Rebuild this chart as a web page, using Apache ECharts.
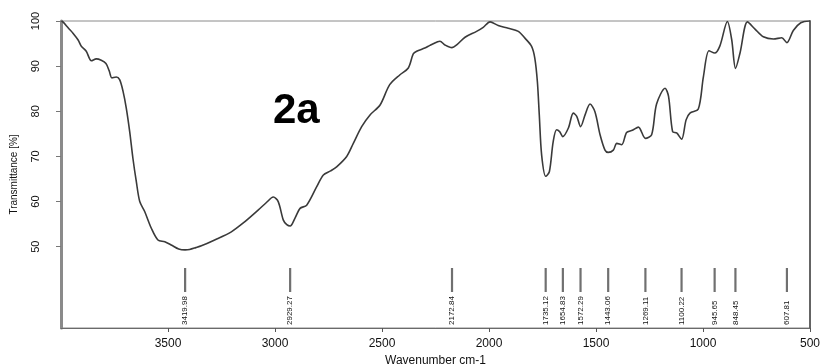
<!DOCTYPE html>
<html>
<head>
<meta charset="utf-8">
<script src="https://cdn.jsdelivr.net/npm/echarts@6/dist/echarts.min.js"></script>
<style>
  html, body { margin: 0; padding: 0; background: #fff; }
  #chart { width: 823px; height: 364px; }
</style>
</head>
<body>
<div id="chart"></div>
<script>
// IR spectrum of sample 2a: wavenumber (cm-1) vs transmittance (%)
const wavenumbers = [
  3998, 3991, 3965, 3944, 3920, 3905, 3882, 3858, 3835, 3812, 3790, 3775, 3762, 3742, 3726,
  3710, 3695, 3679, 3664, 3648, 3632, 3609, 3578, 3547, 3515, 3485, 3450, 3420, 3399, 3370,
  3344, 3282, 3204, 3142, 3079, 3040, 3008, 2985, 2961, 2945, 2929, 2907, 2883, 2852, 2805,
  2774, 2740, 2712, 2665, 2634, 2595, 2556, 2509, 2464, 2416, 2377, 2354, 2338, 2300, 2276,
  2240, 2229, 2206, 2173, 2151, 2112, 2058, 2027, 1995, 1957, 1910, 1863, 1832, 1801, 1786,
  1774, 1765, 1754, 1735, 1718, 1700, 1684, 1670, 1655, 1629, 1606, 1590, 1572, 1551, 1528,
  1505, 1481, 1458, 1443, 1419, 1403, 1380, 1357, 1330, 1302, 1269, 1240, 1217, 1177, 1161,
  1142, 1123, 1100, 1079, 1061, 1022, 998, 972, 945, 921, 886, 866, 848, 827, 792,
  757, 718, 671, 632, 608, 578, 543, 505, 500
];
const transmittance = [
  100, 99.8, 98.4, 97.3, 95.8, 94.4, 93.3, 91.2, 91.6, 91.3, 90.6, 89.0, 87.4, 87.6, 87.0,
  84.4, 80.7, 75.5, 69.6, 64.4, 60.0, 57.8, 54.1, 51.5, 51.1, 50.4, 49.5, 49.3, 49.4, 49.8,
  50.2, 51.5, 53.3, 55.5, 58.1, 59.8, 61.0, 60.0, 55.9, 54.9, 54.6, 56.3, 58.5, 59.2, 63.3,
  65.9, 66.8, 67.7, 70.0, 72.9, 76.6, 79.2, 81.4, 85.9, 88.1, 89.6, 92.7, 93.3, 94.0, 94.6,
  95.4, 95.5, 94.7, 94.1, 94.7, 96.4, 97.7, 98.6, 99.8, 99.0, 98.4, 97.7, 96.2, 94.4, 91.8,
  86.6, 79.2, 70.3, 65.6, 66.6, 73.3, 75.9, 75.5, 74.4, 76.3, 79.6, 78.9, 76.6, 79.2, 81.6,
  79.9, 74.8, 71.4, 70.9, 71.4, 72.9, 72.6, 75.3, 75.8, 76.5, 74.0, 74.8, 81.6, 85.1, 83.3,
  75.5, 75.2, 73.8, 78.1, 79.6, 80.5, 87.7, 93.4, 92.9, 94.5, 99.9, 95.9, 89.5, 92.9, 99.8,
  98.2, 96.5, 96.0, 96.3, 95.2, 97.9, 99.6, 100, 100
];
// Annotated band positions (cm-1)
const peakPositions = [3419.98, 2929.27, 2172.84, 1735.12, 1654.83, 1572.29, 1443.06, 1269.11, 1100.22, 945.65, 848.45, 607.81];
const peakLabels = ['3419.98', '2929.27', '2172.84', '1735.12', '1654.83', '1572.29', '1443.06', '1269.11', '1100.22', '945.65', '848.45', '607.81'];
const xTicks = [3500, 3000, 2500, 2000, 1500, 1000, 500];
const yTicks = [50, 60, 70, 80, 90, 100];

const spectrum = wavenumbers.map((w, i) => [w, transmittance[i]]);
const peaks = peakPositions.map((w, i) => [w, 40, peakLabels[i]]);

const chart = echarts.init(document.getElementById('chart'), null, { renderer: 'canvas' });
const FONT = '"Liberation Sans", Arial, sans-serif';

chart.setOption({
  animation: false,
  backgroundColor: '#ffffff',
  grid: {
    left: 61, right: 13, top: 21, bottom: 36,
    outerBoundsMode: 'none',
    show: true, borderColor: '#8a8a8a', borderWidth: 1
  },
  xAxis: {
    type: 'value',
    min: 500, max: 4000, interval: 500,
    inverse: true,
    name: 'Wavenumber cm-1',
    nameLocation: 'middle',
    nameGap: 24,
    nameTextStyle: { fontFamily: FONT, fontSize: 12, color: '#111' },
    axisLine: { show: true, lineStyle: { color: '#6a6a6a', width: 1.2 } },
    axisTick: { show: true, length: 4, customValues: xTicks, lineStyle: { color: '#555', width: 1 } },
    axisLabel: {
      customValues: xTicks, fontFamily: FONT, fontSize: 12, color: '#111', margin: 10,
      formatter: v => String(v)
    },
    splitLine: { show: false }
  },
  yAxis: [
    {
      type: 'value',
      min: 32, max: 100,
      name: 'Transmittance [%]',
      nameLocation: 'middle',
      nameRotate: 90,
      nameGap: 42,
      nameTextStyle: { fontFamily: FONT, fontSize: 10, color: '#111' },
      axisLine: { show: true, lineStyle: { color: '#8a8a8a', width: 3 } },
      axisTick: { show: true, length: 5, customValues: yTicks, lineStyle: { color: '#777', width: 1 } },
      axisLabel: { customValues: yTicks, rotate: 90, fontFamily: FONT, fontSize: 11, color: '#111', margin: 20 },
      splitLine: { show: false }
    },
    {
      // right frame edge
      type: 'value',
      position: 'right',
      min: 32, max: 100,
      axisLine: { show: true, lineStyle: { color: '#5a5a5a', width: 1.8 } },
      axisTick: { show: false },
      axisLabel: { show: false },
      splitLine: { show: false }
    }
  ],
  series: [
    {
      type: 'line',
      data: spectrum,
      smooth: 0.3,
      symbol: 'none',
      clip: true,
      lineStyle: { color: '#3a3a3a', width: 1.6 }
    },
    {
      type: 'custom',
      data: peaks,
      clip: false,
      renderItem: function (params, api) {
        const p = api.coord([api.value(0), api.value(1)]);
        const bottom = params.coordSys.y + params.coordSys.height;
        return {
          type: 'group',
          children: [
            {
              type: 'line',
              shape: { x1: p[0], y1: bottom - 60, x2: p[0], y2: bottom - 36 },
              style: { stroke: '#707070', lineWidth: 2.2 }
            },
            {
              type: 'text',
              x: p[0],
              y: bottom - 3,
              rotation: Math.PI / 2,
              style: {
                text: peakLabels[params.dataIndex],
                fontFamily: FONT,
                fontSize: 8,
                fill: '#111',
                align: 'left',
                verticalAlign: 'middle'
              }
            }
          ]
        };
      }
    }
  ],
  graphic: [
    {
      type: 'text',
      left: 273,
      top: 90,
      style: {
        text: '2a',
        fontFamily: FONT,
        fontSize: 42,
        fontWeight: 'bold',
        fill: '#000'
      }
    }
  ]
});
</script>
</body>
</html>
